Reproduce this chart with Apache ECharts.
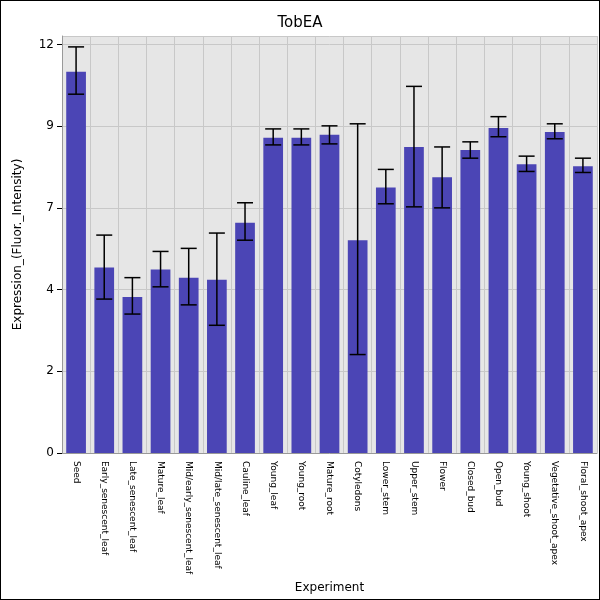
<!DOCTYPE html>
<html><head><meta charset="utf-8">
<script src="https://cdn.jsdelivr.net/npm/echarts@6/dist/echarts.min.js"></script>
<style>html,body{margin:0;padding:0}#c{width:598px;height:598px;border:1px solid #000}</style>
</head><body><div id="c"></div>
<script>
const categories = ['Seed','Early_senescent_leaf','Late_senescent_leaf','Mature_leaf','Mid/early_senescent_leaf','Mid/late_senescent_leaf','Cauline_leaf','Young_leaf','Young_root','Mature_root','Cotyledons','Lower_stem','Upper_stem','Flower','Closed_bud','Open_bud','Young_shoot','Vegetative_shoot_apex','Floral_shoot_apex'];
const values = [11.2,5.45,4.58,5.39,5.15,5.09,6.76,9.26,9.26,9.35,6.25,7.8,8.99,8.1,8.9,9.55,8.48,9.43,8.42];
const errHigh = [11.93,6.4,5.15,5.92,6.01,6.46,7.35,9.52,9.52,9.61,9.67,8.33,10.77,8.99,9.14,9.88,8.72,9.67,8.66];
const errLow = [10.54,4.52,4.08,4.88,4.35,3.75,6.25,9.05,9.05,9.08,2.89,7.32,7.23,7.2,8.66,9.29,8.27,9.23,8.24];

const chart = echarts.init(document.getElementById('c'));
chart.setOption({
  title: {text: 'TobEA', left: 'center', top: 10, textStyle: {fontSize: 15, fontWeight: 'normal', color: '#000', fontFamily: 'DejaVu Sans'}},
  grid: {left: 61, right: 2, top: 35, bottom: 144, backgroundColor: '#e6e6e6', show: true, borderWidth: 0},
  xAxis: {
    type: 'category', data: categories, name: 'Experiment', nameLocation: 'middle', nameGap: 129,
    nameTextStyle: {fontSize: 12, color: '#000', fontFamily: 'DejaVu Sans'},
    axisTick: {show: false}, axisLine: {lineStyle: {color: '#999'}},
    splitLine: {show: true, lineStyle: {color: '#c8c8c8'}},
    axisLabel: {rotate: -90, interval: 0, fontSize: 9, color: '#000', fontFamily: 'DejaVu Sans'}
  },
  yAxis: {
    type: 'value', min: 0, max: 12.25, interval: 2.4, name: 'Expression_(Fluor._Intensity)',
    nameLocation: 'middle', nameGap: 38, nameTextStyle: {fontSize: 12, color: '#000', fontFamily: 'DejaVu Sans'},
    axisLine: {show: true, lineStyle: {color: '#999'}}, axisTick: {show: true, lineStyle: {color: '#000'}},
    splitLine: {lineStyle: {color: '#c8c8c8'}},
    axisLabel: {showMaxLabel: false, fontSize: 12, color: '#000', fontFamily: 'DejaVu Sans', formatter: v => v > 12.1 ? '' : String(Math.floor(v + 1e-6))}
  },
  series: [
    {type: 'bar', data: values, barWidth: '70%', itemStyle: {color: '#4b45b5'}},
    {type: 'custom', data: categories.map((c, i) => [i, errLow[i], errHigh[i]]), z: 5,
     renderItem: (params, api) => {
       const lo = api.coord([api.value(0), api.value(1)]);
       const hi = api.coord([api.value(0), api.value(2)]);
       const w = 8;
       const st = {stroke: '#000', lineWidth: 1.5};
       return {type: 'group', children: [
         {type: 'line', shape: {x1: hi[0], y1: hi[1], x2: lo[0], y2: lo[1]}, style: st},
         {type: 'line', shape: {x1: hi[0]-w, y1: hi[1], x2: hi[0]+w, y2: hi[1]}, style: st},
         {type: 'line', shape: {x1: lo[0]-w, y1: lo[1], x2: lo[0]+w, y2: lo[1]}, style: st}
       ]};
     }}
  ]
});
</script></body></html>
